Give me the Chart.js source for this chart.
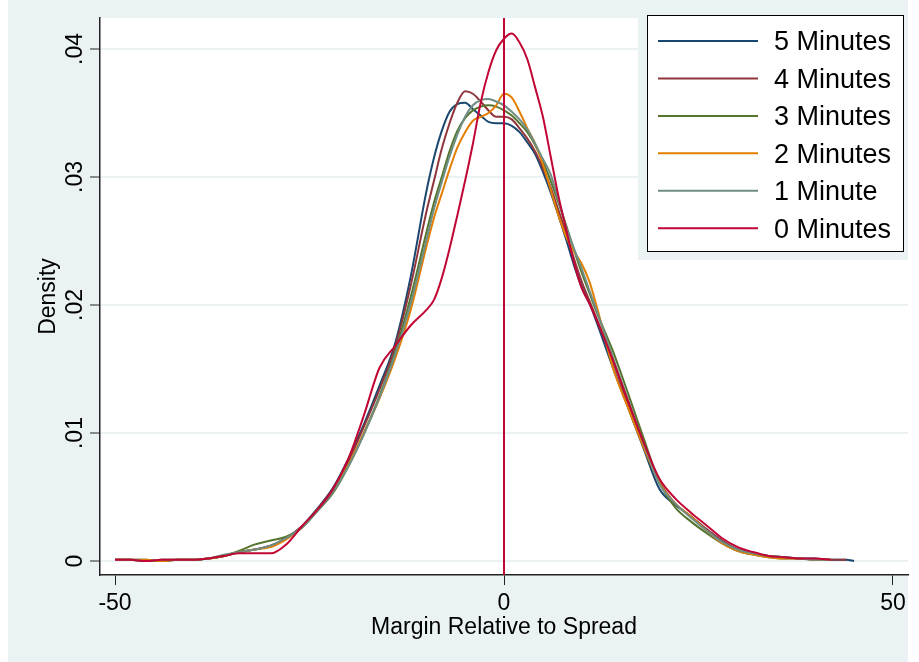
<!DOCTYPE html>
<html>
<head>
<meta charset="utf-8">
<script src="https://cdn.jsdelivr.net/npm/chart.js@4"></script>
<style>
  html, body { margin: 0; padding: 0; background: #fff; }
  #wrap { width: 919px; height: 662px; }
</style>
</head>
<body>
<div id="wrap"><canvas id="chart" width="919" height="662"></canvas></div>
<script>
// Margin grid (x) shared by all density curves
const xValues = [-50, -48, -46, -44, -42, -40, -38, -36, -34, -32, -30, -28, -26, -24, -22, -20, -18, -16, -14, -12,
  -10, -9, -8, -7, -6, -5, -4, -3, -2, -1, 0, 1, 2, 3, 4, 5, 6, 7, 8, 9, 10, 11, 12,
  14, 16, 18, 20, 22, 24, 26, 28, 30, 32, 34, 36, 38, 40, 42, 44, 45];

// Density estimates, one array per time bucket (null = no estimate there)
const min5 = [.0001, .0001, .0001, .0000, .0001, .0001, .0002, .0004, .0007, .0009, .0012, .0018, .0027, .0041, .0057, .0080, .0107, .0137, .0170, .0222,
  .0288, .0315, .0336, .0351, .0357, .0358, .0353, .0348, .0343, .0342, .0342, .0340, .0335, .0327, .0318, .0304, .0288, .0270, .0251, .0231, .0214, .0201, .0185,
  .0151, .0119, .0087, .0056, .0044, .0035, .0025, .0016, .0009, .0006, .0004, .0003, .0002, .0002, .0001, .0001, .0000];
const min4 = [.0001, .0001, .0000, .0001, .0001, .0001, .0002, .0004, .0007, .0009, .0012, .0018, .0027, .0040, .0056, .0078, .0105, .0134, .0167, .0215,
  .0272, .0297, .0322, .0342, .0358, .0367, .0365, .0359, .0352, .0347, .0347, .0345, .0338, .0330, .0320, .0307, .0292, .0274, .0256, .0236, .0218, .0203, .0188,
  .0156, .0122, .0090, .0062, .0045, .0035, .0025, .0016, .0009, .0006, .0004, .0003, .0002, .0001, .0001, .0001, null];
const min3 = [.0001, .0001, .0000, .0000, .0001, .0001, .0002, .0004, .0008, .0013, .0016, .0019, .0026, .0039, .0053, .0074, .0100, .0129, .0163, .0206,
  .0256, .0280, .0300, .0320, .0336, .0346, .0352, .0355, .0356, .0355, .0352, .0348, .0342, .0335, .0325, .0312, .0297, .0280, .0262, .0243, .0225, .0209, .0193,
  .0164, .0130, .0095, .0061, .0042, .0031, .0022, .0014, .0008, .0005, .0003, .0002, .0002, .0001, .0001, null, null];
const min2 = [.0001, .0001, .0001, .0000, .0001, .0001, .0002, .0004, .0007, .0009, .0011, .0017, .0026, .0040, .0055, .0075, .0100, .0127, .0158, .0196,
  .0245, .0268, .0287, .0306, .0323, .0335, .0344, .0347, .0350, .0356, .0365, .0362, .0351, .0338, .0326, .0310, .0290, .0270, .0253, .0242, .0232, .0218, .0197,
  .0151, .0119, .0088, .0061, .0045, .0035, .0024, .0014, .0008, .0005, .0003, .0002, .0002, .0001, .0001, null, null];
const min1 = [.0001, .0001, .0000, .0001, .0001, .0001, .0002, .0005, .0007, .0009, .0012, .0018, .0026, .0039, .0054, .0074, .0099, .0128, .0161, .0201,
  .0250, .0275, .0296, .0316, .0333, .0347, .0356, .0360, .0361, .0359, .0356, .0351, .0345, .0337, .0326, .0314, .0302, .0282, .0261, .0244, .0228, .0211, .0194,
  .0159, .0125, .0091, .0060, .0045, .0034, .0024, .0015, .0009, .0006, .0004, .0003, .0002, .0001, .0001, null, null];
const min0 = [.0001, .0001, .0000, .0001, .0001, .0001, .0002, .0004, .0006, .0006, .0006, .0013, .0027, .0040, .0056, .0080, .0114, .0151, .0168, .0184,
  .0196, .0204, .0221, .0244, .0270, .0297, .0326, .0358, .0382, .0399, .0408, .0412, .0405, .0392, .0370, .0347, .0316, .0285, .0259, .0233, .0213, .0201, .0187,
  .0157, .0124, .0092, .0064, .0049, .0038, .0028, .0018, .0011, .0007, .0004, .0003, .0002, .0002, .0001, null, null];

const seriesLabels = ['5 Minutes', '4 Minutes', '3 Minutes', '2 Minutes', '1 Minute', '0 Minutes'];
const seriesColors = ['#1a476f', '#90353b', '#55752f', '#e37e00', '#6e8e84', '#c10534'];
const seriesValues = [min5, min4, min3, min2, min1, min0];

// Axis ticks
const xTicks = [-50, 0, 50];
const yTicks = [0, 0.01, 0.02, 0.03, 0.04];
const yTickLabels = ['0', '.01', '.02', '.03', '.04'];
const X_MIN = -51.93, X_MAX = 51.93;
const Y_MIN = -0.00109, Y_MAX = 0.04242;

const panelColor = '#eaf2f3';
const axisColor = '#222';
Chart.defaults.font.family = "'Liberation Sans', Arial, sans-serif";
Chart.defaults.color = '#000';

function toPoints(values) {
  const pts = [];
  values.forEach((v, i) => {
    if (v !== null) pts.push({ x: xValues[i], y: v });
  });
  return pts;
}

const datasets = seriesValues.map((vals, i) => ({
  label: seriesLabels[i],
  data: toPoints(vals),
  borderColor: seriesColors[i],
  borderWidth: 2,
  pointRadius: 0,
  cubicInterpolationMode: 'monotone',
  order: seriesValues.length - i + 1,
  inLegend: true
}));

// vertical reference line at zero margin
datasets.push({
  label: 'zero',
  data: [{ x: 0, y: Y_MIN }, { x: 0, y: Y_MAX }],
  borderColor: seriesColors[5],
  borderWidth: 2,
  pointRadius: 0,
  order: 0,
  inLegend: false
});

// backgrounds: light panel around, white plot region
const backgroundPlugin = {
  id: 'bg',
  beforeDraw(chart) {
    const ctx = chart.ctx, a = chart.chartArea;
    ctx.save();
    ctx.fillStyle = '#fff';
    ctx.fillRect(0, 0, chart.width, chart.height);
    ctx.fillStyle = panelColor;
    ctx.fillRect(8, 0, 900, chart.height);
    ctx.fillStyle = '#fff';
    ctx.fillRect(a.left, a.top, a.right - a.left, a.bottom - a.top);
    ctx.restore();
  }
};

// Stata-style boxed legend in the top right corner
const legendPlugin = {
  id: 'boxLegend',
  afterDraw(chart) {
    const ctx = chart.ctx;
    const items = chart.data.datasets.filter(d => d.inLegend);
    ctx.save();
    ctx.fillStyle = panelColor;
    ctx.fillRect(638, 0, 270, 260);
    ctx.fillStyle = '#fff';
    ctx.fillRect(647, 15, 257, 237);
    ctx.strokeStyle = '#000';
    ctx.lineWidth = 1;
    ctx.strokeRect(647.5, 15.5, 256, 236);
    ctx.font = "27px 'Liberation Sans', Arial, sans-serif";
    ctx.textBaseline = 'middle';
    ctx.fillStyle = '#000';
    items.forEach((d, i) => {
      const y = 41 + i * 37.45;
      ctx.strokeStyle = d.borderColor;
      ctx.lineWidth = 2;
      ctx.beginPath();
      ctx.moveTo(658, y);
      ctx.lineTo(758, y);
      ctx.stroke();
      ctx.fillText(d.label, 774, y + 2);
    });
    ctx.restore();
  }
};

new Chart(document.getElementById('chart'), {
  type: 'line',
  data: { datasets: datasets },
  plugins: [backgroundPlugin, legendPlugin],
  options: {
    responsive: false,
    animation: false,
    layout: { padding: { left: 0, right: 11, top: 18, bottom: 0 } },
    plugins: { legend: { display: false }, tooltip: { enabled: false } },
    scales: {
      x: {
        type: 'linear',
        min: X_MIN,
        max: X_MAX,
        afterBuildTicks: s => { s.ticks = xTicks.map(v => ({ value: v })); },
        afterFit: s => { s.height = 87; },
        ticks: { font: { size: 23 }, padding: 5, maxRotation: 0, autoSkip: false, callback: v => String(v) },
        grid: { drawOnChartArea: false, tickLength: 10, tickColor: axisColor, tickWidth: 1 },
        border: { color: axisColor, width: 1.5 },
        title: { display: true, text: 'Margin Relative to Spread', font: { size: 23 }, padding: { top: 0, bottom: 21 } }
      },
      y: {
        type: 'linear',
        min: Y_MIN,
        max: Y_MAX,
        afterBuildTicks: s => { s.ticks = yTicks.map(v => ({ value: v })); },
        afterFit: s => { s.width = 100; },
        ticks: {
          font: { size: 23 }, padding: -2, minRotation: 90, maxRotation: 90, crossAlign: 'center', autoSkip: false,
          callback: v => { const i = yTicks.indexOf(v); return i >= 0 ? yTickLabels[i] : ''; }
        },
        grid: { color: panelColor, lineWidth: 2, tickLength: 10, tickColor: axisColor, tickWidth: 1 },
        border: { color: axisColor, width: 1.5 },
        title: { display: true, text: 'Density', font: { size: 23 }, padding: { top: 35, bottom: 0 } }
      }
    }
  }
});
</script>
</body>
</html>
